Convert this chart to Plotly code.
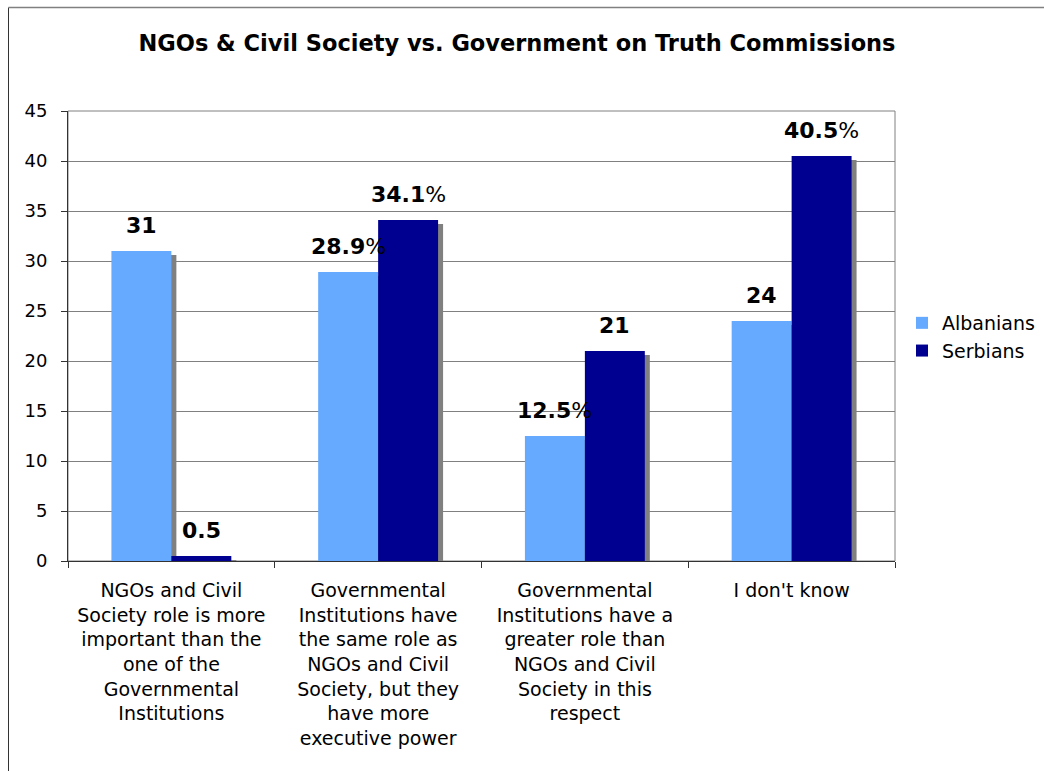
import plotly.graph_objects as go

categories = [
    "NGOs and Civil<br>Society role is more<br>important than the<br>one of the<br>Governmental<br>Institutions",
    "Governmental<br>Institutions have<br>the same role as<br>NGOs and Civil<br>Society, but they<br>have more<br>executive power",
    "Governmental<br>Institutions have a<br>greater role than<br>NGOs and Civil<br>Society in this<br>respect",
    "I don't know",
]
albanians = [31, 28.9, 12.5, 24]
serbians = [0.5, 34.1, 21, 40.5]
albanian_labels = ["<b>31</b>", "<b>28.9</b>%", "<b>12.5</b>%", "<b>24</b>"]
serbian_labels = ["<b>0.5</b>", "<b>34.1</b>%", "<b>21</b>", "<b>40.5</b>%"]
y_ticks = [0, 5, 10, 15, 20, 25, 30, 35, 40, 45]

W, H = 1044, 771
ML, MR, MT, MB = 68, 149, 111, 210
pw = W - ML - MR
ph = H - MT - MB

bw = 0.29
shadow_dx = 5 / pw * 4  # 5px in category units
shadow_dy = 0.4

font = "DejaVu Sans, Verdana, sans-serif"
c_alb = "#66AAFF"
c_srb = "#000090"
c_sh = "#808080"

fig = go.Figure()
# shadows
for vals, off in [(albanians, -bw), (serbians, 0)]:
    fig.add_trace(go.Bar(
        x=categories, y=vals, base=[-shadow_dy] * len(vals),
        width=bw, offset=off + shadow_dx,
        marker=dict(color=c_sh, line=dict(width=0)),
        showlegend=False, hoverinfo="skip",
    ))
fig.add_trace(go.Bar(
    x=categories, y=albanians, name="Albanians", width=bw, offset=-bw,
    marker=dict(color=c_alb, line=dict(width=0)),
))
fig.add_trace(go.Bar(
    x=categories, y=serbians, name="Serbians", width=bw, offset=0,
    marker=dict(color=c_srb, line=dict(width=0)),
))

px_per_unit = pw / 4
for cat, v, t in zip(categories, albanians, albanian_labels):
    fig.add_annotation(x=cat, y=v, text=t, showarrow=False, xanchor="center",
                       yanchor="bottom", xshift=-bw / 2 * px_per_unit, yshift=11,
                       font=dict(family=font, size=22, color="black"))
for cat, v, t in zip(categories, serbians, serbian_labels):
    fig.add_annotation(x=cat, y=v, text=t, showarrow=False, xanchor="center",
                       yanchor="bottom", xshift=bw / 2 * px_per_unit, yshift=11,
                       font=dict(family=font, size=22, color="black"))

# plot area border
fig.add_shape(type="rect", xref="paper", yref="paper", x0=0, y0=0, x1=1, y1=1,
              line=dict(color="#808080", width=1), layer="below")
# outer chart border (left and top)
ox = (8.5 - ML) / pw
oy = 1 + (MT - 7.5) / ph
fig.add_shape(type="line", xref="paper", yref="paper", x0=ox, x1=ox, y0=-5, y1=oy,
              line=dict(color="#333333", width=1))
fig.add_shape(type="line", xref="paper", yref="paper", x0=ox, x1=5, y0=oy, y1=oy,
              line=dict(color="#808080", width=1.5))

fig.update_layout(
    width=W, height=H,
    margin=dict(l=ML, r=MR, t=MT, b=MB, pad=0, autoexpand=False),
    paper_bgcolor="white", plot_bgcolor="white",
    barmode="overlay",
    title=dict(text="<b>NGOs & Civil Society vs. Government on Truth Commissions</b>",
               x=517 / W, xanchor="center", y=1 - 43 / H, yanchor="middle",
               font=dict(family=font, size=22.5, color="black")),
    legend=dict(xref="container", yref="container", x=902 / W, y=1 - 304 / H,
                xanchor="left", yanchor="top",
                font=dict(family=font, size=19, color="black"),
                itemwidth=30, tracegroupgap=0, bgcolor="rgba(0,0,0,0)"),
    font=dict(family=font, color="black"),
)
fig.update_xaxes(
    type="category", showgrid=False, showline=True, linecolor="#333333", linewidth=1,
    ticks="outside", tickson="boundaries", ticklen=6, tickcolor="#333333",
    tickfont=dict(family=font, size=19, color="black"), tickangle=0,
    ticklabelstandoff=12,
)
fig.update_yaxes(
    range=[0, 45], tickvals=y_ticks, showgrid=True, gridcolor="#808080", gridwidth=1,
    showline=True, linecolor="#333333", linewidth=1, zeroline=False,
    ticks="outside", ticklen=6, tickcolor="#333333",
    tickfont=dict(family=font, size=18, color="black"),
    ticklabelstandoff=10,
)
fig.write_html("out.html", config={"displayModeBar": False},
               post_script="document.body.style.margin='0';document.body.style.overflow='hidden';")
